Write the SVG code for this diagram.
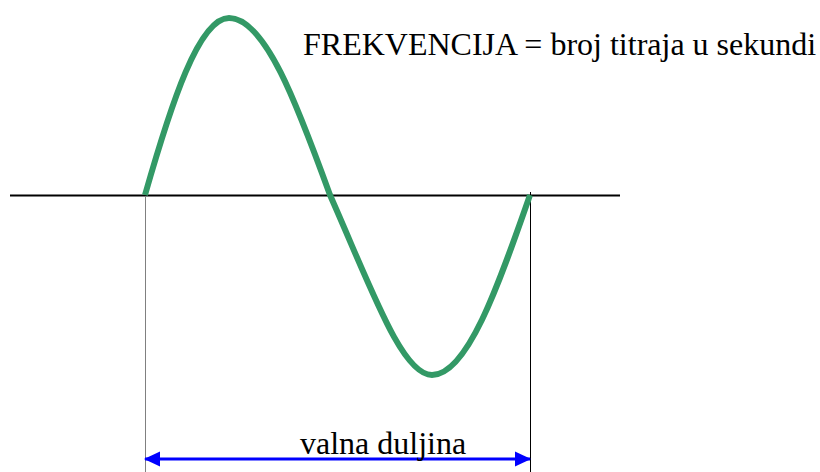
<svg xmlns="http://www.w3.org/2000/svg" width="820" height="472" viewBox="0 0 820 472">
<style>
text{font-family:'Liberation Serif','Times New Roman',Times,serif;fill:#000}
</style>
<defs>
<marker id="ah" viewBox="0 0 16 16" refX="15" refY="8" markerWidth="16" markerHeight="16" markerUnits="userSpaceOnUse" orient="auto-start-reverse">
<path d="M0,0.5 L16,8 L0,15.5 Z" fill="#0000FF"/>
</marker>
</defs>
<rect width="820" height="472" fill="#fff"/>
<g id="connectors">
<line x1="10" y1="195.5" x2="620" y2="195.5" stroke="#000" stroke-width="2"/>
<line x1="145.5" y1="196" x2="145.5" y2="472" stroke="#808080" stroke-width="1"/>
<line x1="530.5" y1="192" x2="530.5" y2="472" stroke="#000" stroke-width="1"/>
<line x1="145" y1="459" x2="530" y2="459" stroke="#0000FF" stroke-width="3" marker-start="url(#ah)" marker-end="url(#ah)"/>
</g>
<g id="wave">
<path d="M145,195 C171,104 199,18 229,18 C265,18 297,104 330,195 C372,290 402,375 432,375 C467,375 498,287 530,195" fill="none" stroke="#339966" stroke-width="6" stroke-linejoin="round"/>
</g>
<g id="title">
<text x="303" y="55" font-size="32" font-family="Liberation Serif, serif">FREKVENCIJA = broj titraja u sekundi</text>
</g>
<g id="label">
<text x="300" y="454" font-size="32" font-family="Liberation Serif, serif">valna duljina</text>
</g>
</svg>
